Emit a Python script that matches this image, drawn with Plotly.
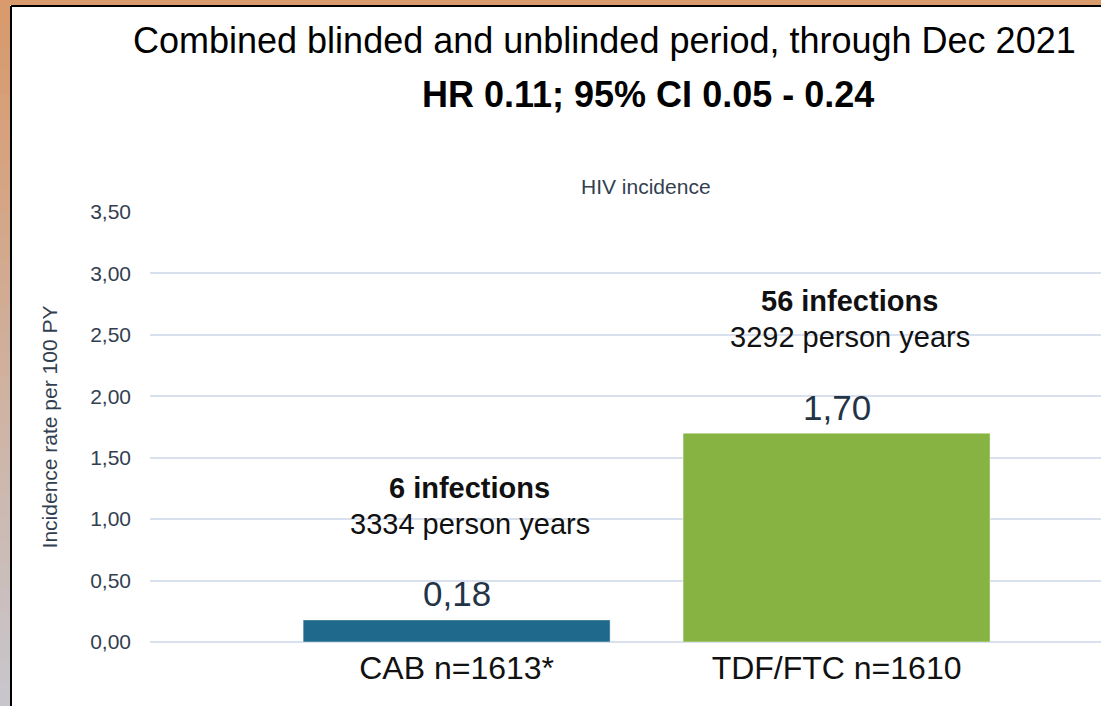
import plotly.graph_objects as go

categories = ["CAB n=1613*", "TDF/FTC n=1610"]
incidence = [0.18, 1.70]
value_labels = ["0,18", "1,70"]
infections = ["6 infections", "56 infections"]
person_years = ["3334 person years", "3292 person years"]
bar_colors = ["#1F6A8C", "#86B342"]
tick_vals = [0, 0.5, 1.0, 1.5, 2.0, 2.5, 3.0, 3.5]
tick_text = ["0,00", "0,50", "1,00", "1,50", "2,00", "2,50", "3,00", "3,50"]

W, H = 1101, 706
L, R, T, B = 150, 0, 212, 64
pw = W - L - R
ph = H - T - B

def px_x(p):
    return (p - L) / pw

def px_y(p):
    return (H - B - p) / ph

FONT = "Liberation Sans, Arial, sans-serif"

fig = go.Figure()
fig.add_trace(go.Bar(
    x=[0, 1], y=incidence, width=0.808,
    marker=dict(color=bar_colors, line=dict(color="rgba(255,255,255,0.45)", width=1)),
    hoverinfo="skip",
))

ann = []
for i in range(len(categories)):
    v = incidence[i]
    ann.append(dict(x=i + 0.0, y=v, xref="x", yref="y", text=value_labels[i],
                    showarrow=False, yanchor="middle", yshift=26,
                    font=dict(size=35, color="#243447", family=FONT)))
    ann.append(dict(x=i + 0.035, y=v, xref="x", yref="y", text=person_years[i],
                    showarrow=False, yanchor="middle", yshift=96,
                    font=dict(size=29, color="#111111", family=FONT)))
    ann.append(dict(x=i + 0.035, y=v, xref="x", yref="y", text="<b>" + infections[i] + "</b>",
                    showarrow=False, yanchor="middle", yshift=132,
                    font=dict(size=29, color="#111111", family=FONT)))

ann.append(dict(x=px_x(604), y=px_y(40), xref="paper", yref="paper",
                text="Combined blinded and unblinded period, through Dec 2021",
                showarrow=False, xanchor="center", yanchor="middle",
                font=dict(size=36, color="#000000", family=FONT)))
ann.append(dict(x=px_x(648), y=px_y(94), xref="paper", yref="paper",
                text="<b>HR 0.11; 95% CI 0.05 - 0.24</b>",
                showarrow=False, xanchor="center", yanchor="middle",
                font=dict(size=36, color="#000000", family=FONT)))
ann.append(dict(x=px_x(646), y=px_y(186), xref="paper", yref="paper",
                text="HIV incidence",
                showarrow=False, xanchor="center", yanchor="middle",
                font=dict(size=21, color="#333F50", family=FONT)))

shapes = []
# frame decoration: left strip with gradient, top strip
n = 30
c0 = (217, 154, 108)
c1 = (200, 198, 204)
for k in range(n):
    t = k / (n - 1)
    col = tuple(int(c0[j] + (c1[j] - c0[j]) * t) for j in range(3))
    y0 = k * H / n
    y1 = (k + 1) * H / n + 1
    shapes.append(dict(type="rect", xref="paper", yref="paper",
                       x0=px_x(0), x1=px_x(10), y0=px_y(y1), y1=px_y(y0),
                       fillcolor="rgb(%d,%d,%d)" % col, line=dict(width=0), layer="above"))
shapes.append(dict(type="rect", xref="paper", yref="paper",
                   x0=px_x(0), x1=px_x(W), y0=px_y(5), y1=px_y(0),
                   fillcolor="rgb(217,154,108)", line=dict(width=0), layer="above"))
shapes.append(dict(type="line", xref="paper", yref="paper",
                   x0=px_x(11), x1=px_x(11), y0=px_y(H), y1=px_y(6),
                   line=dict(color="#000000", width=2), layer="above"))
shapes.append(dict(type="line", xref="paper", yref="paper",
                   x0=px_x(11), x1=px_x(W), y0=px_y(6), y1=px_y(6),
                   line=dict(color="#000000", width=2), layer="above"))

fig.update_layout(
    width=W, height=H,
    margin=dict(l=L, r=R, t=T, b=B, pad=0),
    paper_bgcolor="white", plot_bgcolor="white",
    showlegend=False,
    annotations=ann,
    shapes=shapes,
    font=dict(family=FONT),
    xaxis=dict(
        range=[-0.807, 1.696], tickvals=[0, 1], ticktext=categories,
        showgrid=False, zeroline=False, showline=False, ticks="",
        ticklabelstandoff=4,
        tickfont=dict(size=32, color="#111111", family=FONT),
        fixedrange=True,
    ),
    yaxis=dict(
        range=[0, 3.5], tickvals=tick_vals, ticktext=tick_text,
        showgrid=True, gridcolor="#D9E1EE", gridwidth=1.5,
        zeroline=True, zerolinecolor="#D9E1EE", zerolinewidth=1.5,
        showline=False, ticks="", ticklabelstandoff=18,
        tickfont=dict(size=21, color="#333F50", family=FONT),
        title=dict(text="Incidence rate per 100 PY", standoff=26,
                   font=dict(size=21, color="#333F50", family=FONT)),
        fixedrange=True,
    ),
)

fig.write_html("out.html", config={"displayModeBar": False},
               post_script="document.body.style.margin='0';document.body.style.overflow='hidden';")
